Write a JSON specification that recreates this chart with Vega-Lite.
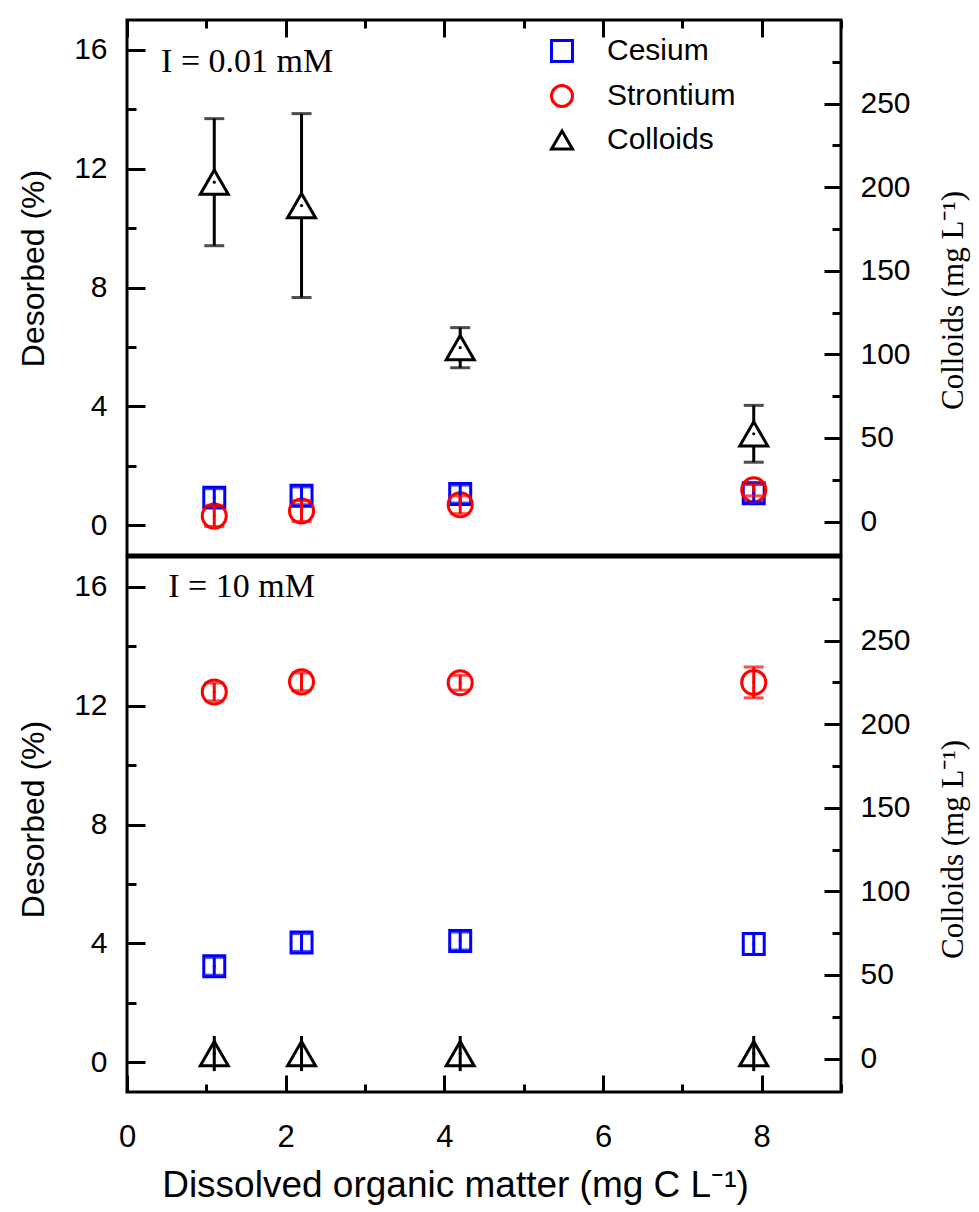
{
  "$schema": "https://vega.github.io/schema/vega-lite/v6.json",
  "background": "white",
  "padding": {"left": 16, "top": 17, "right": 5, "bottom": 5},
  "config": {
    "view": {"stroke": "black", "strokeWidth": 3},
    "axis": {"domain": false, "grid": false, "tickColor": "black", "tickWidth": 3, "labelColor": "black", "titleColor": "black", "labelFont": "Liberation Sans", "labelFontSize": 30, "titleFont": "Liberation Sans", "titleFontSize": 32, "titleFontWeight": "normal", "labelFlush": false},
    "point": {"opacity": 1}
  },
  "datasets": {
    "pts": [
      {"ionic": "I = 0.01 mM", "series": "Cesium", "dom": 1.1, "value": 0.93, "sd": 0.3},
      {"ionic": "I = 0.01 mM", "series": "Cesium", "dom": 2.2, "value": 0.99, "sd": 0.3},
      {"ionic": "I = 0.01 mM", "series": "Cesium", "dom": 4.2, "value": 1.05, "sd": 0.3},
      {"ionic": "I = 0.01 mM", "series": "Cesium", "dom": 7.9, "value": 1.08, "sd": 0.3},
      {"ionic": "I = 0.01 mM", "series": "Strontium", "dom": 1.1, "value": 0.31, "sd": 0.35},
      {"ionic": "I = 0.01 mM", "series": "Strontium", "dom": 2.2, "value": 0.48, "sd": 0.35},
      {"ionic": "I = 0.01 mM", "series": "Strontium", "dom": 4.2, "value": 0.69, "sd": 0.3},
      {"ionic": "I = 0.01 mM", "series": "Strontium", "dom": 7.9, "value": 1.19, "sd": 0.2},
      {"ionic": "I = 0.01 mM", "series": "Colloids", "dom": 1.1, "value": 203, "sd": 38},
      {"ionic": "I = 0.01 mM", "series": "Colloids", "dom": 2.2, "value": 189, "sd": 55},
      {"ionic": "I = 0.01 mM", "series": "Colloids", "dom": 4.2, "value": 104, "sd": 12},
      {"ionic": "I = 0.01 mM", "series": "Colloids", "dom": 7.9, "value": 52.5, "sd": 17},
      {"ionic": "I = 10 mM", "series": "Cesium", "dom": 1.1, "value": 3.23, "sd": 0.3},
      {"ionic": "I = 10 mM", "series": "Cesium", "dom": 2.2, "value": 4.03, "sd": 0.3},
      {"ionic": "I = 10 mM", "series": "Cesium", "dom": 4.2, "value": 4.08, "sd": 0.3},
      {"ionic": "I = 10 mM", "series": "Cesium", "dom": 7.9, "value": 3.98, "sd": 0.35},
      {"ionic": "I = 10 mM", "series": "Strontium", "dom": 1.1, "value": 12.46, "sd": 0.3},
      {"ionic": "I = 10 mM", "series": "Strontium", "dom": 2.2, "value": 12.8, "sd": 0.3},
      {"ionic": "I = 10 mM", "series": "Strontium", "dom": 4.2, "value": 12.77, "sd": 0.25},
      {"ionic": "I = 10 mM", "series": "Strontium", "dom": 7.9, "value": 12.78, "sd": 0.52},
      {"ionic": "I = 10 mM", "series": "Colloids", "dom": 1.1, "value": 3, "sd": 10.5},
      {"ionic": "I = 10 mM", "series": "Colloids", "dom": 2.2, "value": 3, "sd": 10.5},
      {"ionic": "I = 10 mM", "series": "Colloids", "dom": 4.2, "value": 3, "sd": 10.5},
      {"ionic": "I = 10 mM", "series": "Colloids", "dom": 7.9, "value": 3, "sd": 10.5}
    ]
  },
  "spacing": -3,
  "resolve": {"scale": {"color": "independent", "shape": "independent"}},
  "vconcat": [
    {
      "width": 714,
      "height": 535,
      "data": {"name": "pts"},
      "transform": [{"filter": "datum.ionic === 'I = 0.01 mM'"}],
      "resolve": {"scale": {"y": "independent"}, "axis": {"x": "independent", "y": "independent"}},
      "layer": [
        {
          "transform": [{"filter": "datum.series === 'Cesium'"}],
          "mark": {"type": "point", "filled": false, "strokeWidth": 3, "size": 440, "opacity": 1},
          "encoding": {
            "x": {"field": "dom", "type": "quantitative", "scale": {"domain": [0, 9], "nice": false}, "axis": {"orient": "top", "values": [0, 2, 4, 6, 8], "tickSize": -17, "labels": false, "title": null}},
            "y": {"field": "value", "type": "quantitative", "scale": {"domain": [-1, 17], "nice": false}, "axis": {"orient": "left", "values": [0, 4, 8, 12, 16], "tickSize": -18, "labelPadding": 38, "title": "Desorbed (%)", "titlePadding": 23, "titleY": 248}},
            "color": {"field": "series", "type": "nominal", "scale": {"domain": ["Cesium", "Strontium", "Colloids"], "range": ["#0000ff", "#ff0000", "#000000"]}, "legend": {"orient": "none", "legendX": 420, "legendY": 16, "title": null, "labelFont": "Liberation Sans", "labelFontSize": 30, "labelColor": "black", "symbolStrokeWidth": 3, "symbolSize": 440, "rowPadding": 11, "labelOffset": 30}},
            "shape": {"field": "series", "type": "nominal", "scale": {"domain": ["Cesium", "Strontium", "Colloids"], "range": ["square", "circle", "triangle-up"]}, "legend": {"orient": "none", "legendX": 420, "legendY": 16, "title": null, "labelFont": "Liberation Sans", "labelFontSize": 30, "labelColor": "black", "symbolStrokeWidth": 3, "symbolSize": 440, "rowPadding": 11, "labelOffset": 30}}
          }
        },
        {
          "transform": [{"filter": "datum.series === 'Strontium'"}],
          "mark": {"type": "point", "filled": false, "strokeWidth": 3, "size": 580, "opacity": 1},
          "encoding": {
            "x": {"field": "dom", "type": "quantitative", "scale": {"domain": [0, 9], "nice": false}, "axis": null},
            "y": {"field": "value", "type": "quantitative", "scale": {"domain": [-1, 17], "nice": false}, "axis": null},
            "color": {"field": "series", "type": "nominal", "scale": {"domain": ["Cesium", "Strontium", "Colloids"], "range": ["#0000ff", "#ff0000", "#000000"]}, "legend": {"orient": "none", "legendX": 420, "legendY": 16, "title": null, "labelFont": "Liberation Sans", "labelFontSize": 30, "labelColor": "black", "symbolStrokeWidth": 3, "symbolSize": 440, "rowPadding": 11, "labelOffset": 30}},
            "shape": {"field": "series", "type": "nominal", "scale": {"domain": ["Cesium", "Strontium", "Colloids"], "range": ["square", "circle", "triangle-up"]}, "legend": {"orient": "none", "legendX": 420, "legendY": 16, "title": null, "labelFont": "Liberation Sans", "labelFontSize": 30, "labelColor": "black", "symbolStrokeWidth": 3, "symbolSize": 440, "rowPadding": 11, "labelOffset": 30}}
          }
        },
        {
          "transform": [{"filter": "datum.series === 'Cesium'"}],
          "mark": {"type": "errorbar", "color": "#0000ff", "ticks": {"size": 20, "thickness": 3}, "thickness": 3},
          "encoding": {
            "x": {"field": "dom", "type": "quantitative", "scale": {"domain": [0, 9], "nice": false}, "axis": null},
            "y": {"field": "value", "type": "quantitative", "scale": {"domain": [-1, 17], "nice": false}, "axis": null},
            "yError": {"field": "sd"}
          }
        },
        {
          "transform": [{"filter": "datum.series === 'Strontium'"}],
          "mark": {"type": "errorbar", "color": "#ff0000", "ticks": {"size": 20, "thickness": 3}, "thickness": 3},
          "encoding": {
            "x": {"field": "dom", "type": "quantitative", "scale": {"domain": [0, 9], "nice": false}, "axis": null},
            "y": {"field": "value", "type": "quantitative", "scale": {"domain": [-1, 17], "nice": false}, "axis": null},
            "yError": {"field": "sd"}
          }
        },
        {
          "transform": [{"filter": "datum.series === 'Cesium'"}],
          "mark": {"type": "point", "filled": true, "size": 10, "color": "#0000ff", "opacity": 1},
          "encoding": {
            "x": {"field": "dom", "type": "quantitative", "scale": {"domain": [0, 9], "nice": false}, "axis": {"orient": "top", "values": [0, 1, 2, 3, 4, 5, 6, 7, 8, 9], "tickSize": -8, "labels": false, "title": null}},
            "y": {"field": "value", "type": "quantitative", "scale": {"domain": [-1, 17], "nice": false}, "axis": {"orient": "left", "values": [0, 2, 4, 6, 8, 10, 12, 14, 16], "tickSize": -9, "labels": false, "title": null}}
          }
        },
        {
          "transform": [{"filter": "datum.series === 'Strontium'"}],
          "mark": {"type": "point", "filled": true, "size": 10, "color": "#ff0000", "opacity": 1},
          "encoding": {
            "x": {"field": "dom", "type": "quantitative", "scale": {"domain": [0, 9], "nice": false}, "axis": null},
            "y": {"field": "value", "type": "quantitative", "scale": {"domain": [-1, 17], "nice": false}, "axis": null}
          }
        },
        {
          "transform": [{"filter": "datum.series === 'Colloids'"}],
          "mark": {"type": "errorbar", "color": "black", "ticks": {"size": 20, "thickness": 3}, "thickness": 3},
          "encoding": {
            "x": {"field": "dom", "type": "quantitative", "scale": {"domain": [0, 9], "nice": false}, "axis": null},
            "y": {"field": "value", "type": "quantitative", "scale": {"domain": [-20, 300], "nice": false}, "axis": null},
            "yError": {"field": "sd"}
          }
        },
        {
          "transform": [{"filter": "datum.series === 'Colloids'"}],
          "mark": {"type": "point", "shape": "triangle-up", "filled": false, "fill": "white", "stroke": "black", "strokeWidth": 3, "size": 780, "opacity": 1},
          "encoding": {
            "x": {"field": "dom", "type": "quantitative", "scale": {"domain": [0, 9], "nice": false}, "axis": null},
            "y": {"field": "value", "type": "quantitative", "scale": {"domain": [-20, 300], "nice": false}, "axis": {"orient": "right", "values": [0, 50, 100, 150, 200, 250], "tickSize": -17, "labelPadding": 36, "title": "Colloids (mg L⁻¹)", "titleFont": "Liberation Serif", "titleFontSize": 31, "titleAngle": 270, "titleBaseline": "top", "titlePadding": 28, "titleY": 280}}
          }
        },
        {
          "transform": [{"filter": "datum.series === 'Colloids'"}],
          "mark": {"type": "point", "filled": true, "size": 10, "color": "black", "opacity": 1},
          "encoding": {
            "x": {"field": "dom", "type": "quantitative", "scale": {"domain": [0, 9], "nice": false}, "axis": null},
            "y": {"field": "value", "type": "quantitative", "scale": {"domain": [-20, 300], "nice": false}, "axis": {"orient": "right", "values": [0, 25, 50, 75, 100, 125, 150, 175, 200, 225, 250, 275], "tickSize": -9, "labels": false, "title": null}}
          }
        },
        {
          "data": {"values": [{"label": "I = 0.01 mM"}]},
          "mark": {"type": "text", "font": "Liberation Serif", "fontSize": 34, "align": "left", "baseline": "middle", "color": "black"},
          "encoding": {
            "x": {"datum": 0.43, "type": "quantitative", "scale": {"domain": [0, 9], "nice": false}, "axis": null},
            "y": {"datum": 15.6, "type": "quantitative", "scale": {"domain": [-1, 17], "nice": false}, "axis": null},
            "text": {"field": "label"}
          }
        }
      ]
    },
    {
      "width": 714,
      "height": 535,
      "data": {"name": "pts"},
      "transform": [{"filter": "datum.ionic === 'I = 10 mM'"}],
      "resolve": {"scale": {"y": "independent"}, "axis": {"x": "independent", "y": "independent"}},
      "layer": [
        {
          "transform": [{"filter": "datum.series === 'Cesium'"}],
          "mark": {"type": "point", "filled": false, "strokeWidth": 3, "size": 440, "opacity": 1, "color": "#0000ff", "shape": "square"},
          "encoding": {
            "x": {"field": "dom", "type": "quantitative", "scale": {"domain": [0, 9], "nice": false}, "axis": {"orient": "bottom", "values": [0, 2, 4, 6, 8], "tickSize": -17, "labelPadding": 47, "labelFontSize": 31, "labelFlush": false, "title": "Dissolved organic matter (mg C L⁻¹)", "titleFontSize": 37, "titlePadding": 15, "titleX": 328}},
            "y": {"field": "value", "type": "quantitative", "scale": {"domain": [-1, 17], "nice": false}, "axis": {"orient": "left", "values": [0, 4, 8, 12, 16], "tickSize": -18, "labelPadding": 38, "title": "Desorbed (%)", "titlePadding": 23, "titleY": 262}}
          }
        },
        {
          "transform": [{"filter": "datum.series === 'Strontium'"}],
          "mark": {"type": "point", "filled": false, "strokeWidth": 3, "size": 580, "opacity": 1, "color": "#ff0000", "shape": "circle"},
          "encoding": {
            "x": {"field": "dom", "type": "quantitative", "scale": {"domain": [0, 9], "nice": false}, "axis": null},
            "y": {"field": "value", "type": "quantitative", "scale": {"domain": [-1, 17], "nice": false}, "axis": null}
          }
        },
        {
          "transform": [{"filter": "datum.series === 'Cesium'"}],
          "mark": {"type": "errorbar", "color": "#0000ff", "ticks": {"size": 20, "thickness": 3}, "thickness": 3},
          "encoding": {
            "x": {"field": "dom", "type": "quantitative", "scale": {"domain": [0, 9], "nice": false}, "axis": null},
            "y": {"field": "value", "type": "quantitative", "scale": {"domain": [-1, 17], "nice": false}, "axis": null},
            "yError": {"field": "sd"}
          }
        },
        {
          "transform": [{"filter": "datum.series === 'Strontium'"}],
          "mark": {"type": "errorbar", "color": "#ff0000", "ticks": {"size": 20, "thickness": 3}, "thickness": 3},
          "encoding": {
            "x": {"field": "dom", "type": "quantitative", "scale": {"domain": [0, 9], "nice": false}, "axis": null},
            "y": {"field": "value", "type": "quantitative", "scale": {"domain": [-1, 17], "nice": false}, "axis": null},
            "yError": {"field": "sd"}
          }
        },
        {
          "transform": [{"filter": "datum.series === 'Cesium'"}],
          "mark": {"type": "point", "filled": true, "size": 10, "color": "#0000ff", "opacity": 1},
          "encoding": {
            "x": {"field": "dom", "type": "quantitative", "scale": {"domain": [0, 9], "nice": false}, "axis": {"orient": "bottom", "values": [0, 1, 2, 3, 4, 5, 6, 7, 8, 9], "tickSize": -8, "labels": false, "title": null}},
            "y": {"field": "value", "type": "quantitative", "scale": {"domain": [-1, 17], "nice": false}, "axis": {"orient": "left", "values": [0, 2, 4, 6, 8, 10, 12, 14, 16], "tickSize": -9, "labels": false, "title": null}}
          }
        },
        {
          "transform": [{"filter": "datum.series === 'Strontium'"}],
          "mark": {"type": "point", "filled": true, "size": 10, "color": "#ff0000", "opacity": 1},
          "encoding": {
            "x": {"field": "dom", "type": "quantitative", "scale": {"domain": [0, 9], "nice": false}, "axis": null},
            "y": {"field": "value", "type": "quantitative", "scale": {"domain": [-1, 17], "nice": false}, "axis": null}
          }
        },
        {
          "transform": [{"filter": "datum.series === 'Colloids'"}],
          "mark": {"type": "point", "shape": "triangle-up", "filled": false, "stroke": "black", "strokeWidth": 3, "size": 780, "opacity": 1},
          "encoding": {
            "x": {"field": "dom", "type": "quantitative", "scale": {"domain": [0, 9], "nice": false}, "axis": null},
            "y": {"field": "value", "type": "quantitative", "scale": {"domain": [-20, 300], "nice": false}, "axis": {"orient": "right", "values": [0, 50, 100, 150, 200, 250], "tickSize": -17, "labelPadding": 36, "title": "Colloids (mg L⁻¹)", "titleFont": "Liberation Serif", "titleFontSize": 31, "titleAngle": 270, "titleBaseline": "top", "titlePadding": 28, "titleY": 292}}
          }
        },
        {
          "transform": [{"filter": "datum.series === 'Colloids'"}],
          "mark": {"type": "errorbar", "color": "black", "ticks": false, "thickness": 3},
          "encoding": {
            "x": {"field": "dom", "type": "quantitative", "scale": {"domain": [0, 9], "nice": false}, "axis": null},
            "y": {"field": "value", "type": "quantitative", "scale": {"domain": [-20, 300], "nice": false}, "axis": null},
            "yError": {"field": "sd"}
          }
        },
        {
          "transform": [{"filter": "datum.series === 'Colloids'"}],
          "mark": {"type": "point", "filled": true, "size": 10, "color": "black", "opacity": 1},
          "encoding": {
            "x": {"field": "dom", "type": "quantitative", "scale": {"domain": [0, 9], "nice": false}, "axis": null},
            "y": {"field": "value", "type": "quantitative", "scale": {"domain": [-20, 300], "nice": false}, "axis": {"orient": "right", "values": [0, 25, 50, 75, 100, 125, 150, 175, 200, 225, 250, 275], "tickSize": -9, "labels": false, "title": null}}
          }
        },
        {
          "data": {"values": [{"label": "I = 10 mM"}]},
          "mark": {"type": "text", "font": "Liberation Serif", "fontSize": 34, "align": "left", "baseline": "middle", "color": "black"},
          "encoding": {
            "x": {"datum": 0.52, "type": "quantitative", "scale": {"domain": [0, 9], "nice": false}, "axis": null},
            "y": {"datum": 16.0, "type": "quantitative", "scale": {"domain": [-1, 17], "nice": false}, "axis": null},
            "text": {"field": "label"}
          }
        }
      ]
    }
  ]
}
